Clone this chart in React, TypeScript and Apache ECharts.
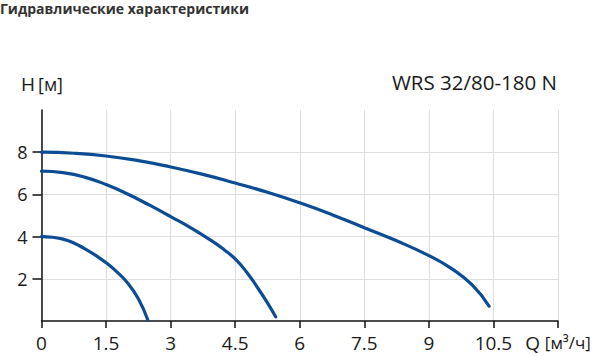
import React, { useEffect, useRef } from "react";
import * as echarts from "echarts";

const xTicks = [0, 1.5, 3, 4.5, 6, 7.5, 9, 10.5, 12];
const yTicks = [2, 4, 6, 8];
const curveTop: [number, number][] = [
  [0, 8.0], [0.75, 7.95], [1.5, 7.82], [2.25, 7.6], [3, 7.3], [3.75, 6.95],
  [4.5, 6.54], [5.25, 6.1], [6, 5.6], [6.75, 5.04], [7.5, 4.42], [8.25, 3.8],
  [9, 3.1], [9.5, 2.52], [10, 1.72], [10.4, 0.7],
];
const curveMid: [number, number][] = [
  [0, 7.1], [0.5, 7.03], [1, 6.82], [1.5, 6.47], [2, 6.02], [2.5, 5.5],
  [3, 4.95], [3.5, 4.38], [4, 3.74], [4.25, 3.37], [4.5, 2.94], [4.75, 2.36],
  [5, 1.64], [5.25, 0.86], [5.44, 0.2],
];
const curveLow: [number, number][] = [
  [0, 4.0], [0.25, 3.97], [0.5, 3.88], [0.75, 3.7], [1, 3.43], [1.25, 3.12],
  [1.5, 2.76], [1.75, 2.33], [2, 1.8], [2.25, 1.05], [2.47, 0.05],
];
const title = "Гидравлические характеристики";
const model = "WRS 32/80-180 N";

const FONT = "'Open Sans', 'Noto Sans', sans-serif";
const BLUE = "#0b4c94";

export default function App() {
  const ref = useRef<HTMLDivElement>(null);
  useEffect(() => {
    if (!ref.current) return;
    const chart = echarts.init(ref.current, null, { renderer: "svg" });
    const line = (data: [number, number][]) => ({
      type: "line",
      data,
      smooth: 0.5,
      showSymbol: false,
      symbol: "none",
      lineStyle: { color: BLUE, width: 3.2, cap: "round" },
    });
    chart.setOption({
      animation: false,
      backgroundColor: "#fff",
      textStyle: { fontFamily: FONT },
      grid: { left: 41.5, right: 42, top: 110, bottom: 35, containLabel: false },
      xAxis: {
        type: "value",
        min: 0,
        max: 12,
        interval: 1.5,
        axisLine: { show: true, lineStyle: { color: "#111", width: 1.5 } },
        axisTick: { show: true, length: 7, lineStyle: { color: "#111", width: 1.5 } },
        splitLine: { show: true, lineStyle: { color: "#dedede", width: 1 } },
        axisLabel: {
          color: "#1a1a1a",
          fontSize: 19,
          fontFamily: FONT,
          margin: 12,
          formatter: (v: number) =>
            v === 12 ? "{q|Q} {u|[м³/ч]}" : xTicks.includes(v) ? String(v) : "",
          rich: {
            q: { fontSize: 19, color: "#1a1a1a", fontFamily: FONT },
            u: { fontSize: 17, color: "#1a1a1a", fontFamily: FONT },
          },
        },
      },
      yAxis: {
        type: "value",
        min: 0,
        max: 10,
        interval: 2,
        axisLine: { show: true, lineStyle: { color: "#111", width: 1.5 } },
        axisTick: {
          show: true,
          length: 9,
          lineStyle: { color: "#111", width: 1.5 },
          customValues: yTicks,
        },
        splitLine: { show: true, lineStyle: { color: "#dedede", width: 1 } },
        axisLabel: {
          color: "#1a1a1a",
          fontSize: 18,
          fontFamily: FONT,
          margin: 14,
          customValues: yTicks,
        },
      },
      graphic: [
        {
          type: "text",
          left: 0,
          top: 1,
          style: { text: title, font: `bold 14px ${FONT}`, fill: "#333" },
        },
        {
          type: "text",
          left: 21,
          top: 74,
          style: {
            text: "{h|H}{u|[м]}",
            rich: {
              h: { fontSize: 19, fontFamily: FONT, fill: "#1a1a1a" },
              u: { fontSize: 18, fontFamily: FONT, fill: "#1a1a1a", padding: [0, 0, 0, 3] },
            },
          },
        },
        {
          type: "text",
          right: 43,
          top: 71,
          style: { text: model, font: `20.5px ${FONT}`, fill: "#1a1a1a" },
        },
      ],
      series: [line(curveTop), line(curveMid), line(curveLow)],
    });
    return () => chart.dispose();
  }, []);
  return (
    <div
      ref={ref}
      style={{ position: "absolute", left: 0, top: 0, width: 600, height: 356 }}
    />
  );
}
